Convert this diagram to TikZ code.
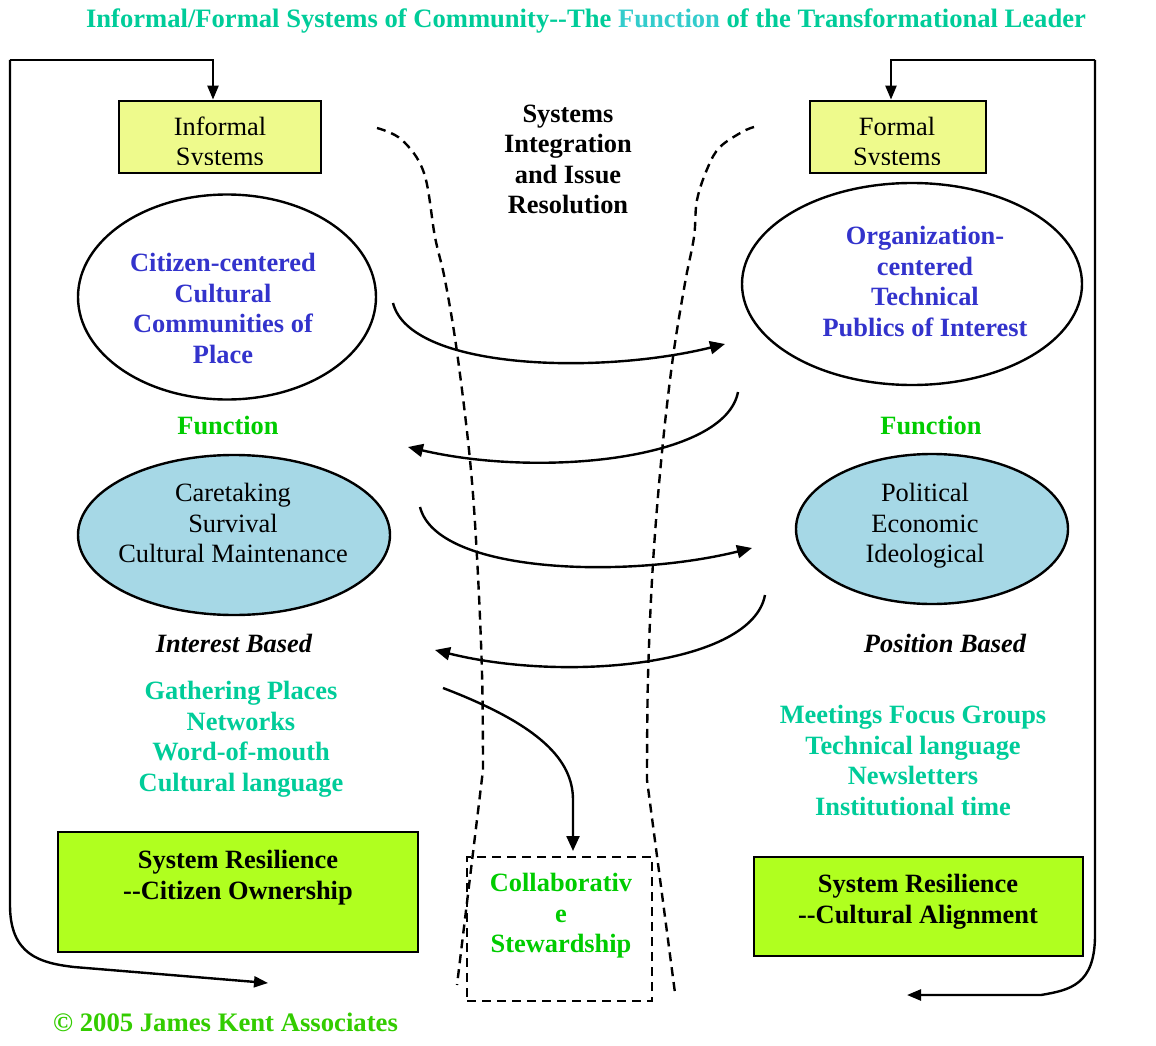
\documentclass[tikz,border=0pt]{standalone}
\usepackage{fontspec}
\setmainfont{Liberation Serif}
\usetikzlibrary{arrows.meta,shapes.geometric}
\definecolor{tealT}{RGB}{0,204,153}
\definecolor{cyanT}{RGB}{51,204,204}
\definecolor{blueT}{RGB}{51,51,204}
\definecolor{greenF}{RGB}{0,204,0}
\definecolor{greenC}{RGB}{51,204,0}
\definecolor{yellowB}{RGB}{238,250,140}
\definecolor{limeB}{RGB}{176,255,31}
\definecolor{blueE}{RGB}{166,216,230}
\begin{document}
\begin{tikzpicture}[x=1pt,y=-1pt,
  tx/.style={inner sep=0pt, align=center, anchor=north,
    font=\fontsize{26.4}{30.5}\selectfont,
    execute at begin node={\rule{0pt}{20pt}}},
  bt/.style={tx, font=\fontsize{26.4}{30.5}\selectfont\bfseries},
  ybox/.style={draw, line width=2.8pt, fill=yellowB, inner sep=0pt},
  gbox/.style={draw, line width=2.8pt, fill=limeB, inner sep=0pt},
  ell/.style={draw, ellipse, line width=2.4pt, inner sep=0pt},
  conn/.style={line width=2.4pt, -{Triangle[length=15pt,width=13pt]}},
  loopln/.style={line width=2.4pt, -{Triangle[length=14pt,width=11pt]}},
  dsh/.style={line width=2.4pt, dash pattern=on 9pt off 6pt}
]
\useasboundingbox (0,0) rectangle (1156,1046);

% title
\node[bt, text=tealT, font=\fontsize{26.6}{30.5}\selectfont\bfseries] (title) at (586,7)
  {Informal/Formal Systems of Community-{}-The \textcolor{cyanT}{Function} of the Transformational Leader};

% boxes
\node[ybox, minimum width=202pt, minimum height=72pt] (inf) at (220,137) {};
\node[ybox, minimum width=176pt, minimum height=72pt] (form) at (898,137) {};
\begin{scope}
  \clip (119,101) rectangle (321,164);
  \node[tx] (infT) at (220,116.5) {Informal\\Systems};
\end{scope}
\begin{scope}
  \clip (810,101) rectangle (986,164);
  \node[tx] (formT) at (897,116.5) {Formal\\Systems};
\end{scope}

% ellipses
\node[ell, fill=white, minimum width=298pt, minimum height=205pt] (e1) at (227,297) {};
\node[ell, fill=white, minimum width=340pt, minimum height=202pt] (e2) at (912,284) {};
\node[ell, fill=blueE, minimum width=312pt, minimum height=160pt] (e3) at (234,535) {};
\node[ell, fill=blueE, minimum width=272pt, minimum height=150pt] (e4) at (932,529) {};

% resilience boxes
\node[gbox, minimum width=360pt, minimum height=120pt] (res1) at (238,892) {};
\node[gbox, minimum width=329pt, minimum height=99pt] (res2) at (918.5,906.5) {};
\node[draw, dsh, minimum width=185pt, minimum height=144pt, inner sep=0pt] (collab) at (559.5,929) {};

% texts
\node[bt] (sysT) at (568,104.5) {Systems\\Integration\\and Issue\\Resolution};
\node[bt, text=blueT] (citT) at (223,253) {Citizen-centered\\Cultural\\Communities of\\Place};
\node[bt, text=blueT] (orgT) at (925,226) {Organization-\\centered\\Technical\\Publics of Interest};
\node[bt, text=greenF] (fnL) at (228,414) {Function};
\node[bt, text=greenF] (fnR) at (931,414) {Function};
\node[tx] (careT) at (233,483) {Caretaking\\Survival\\Cultural Maintenance};
\node[tx] (polT) at (925,483) {Political\\Economic\\Ideological};
\node[bt, font=\fontsize{26.4}{30.5}\selectfont\bfseries\itshape] (intT) at (234,632) {Interest Based};
\node[bt, font=\fontsize{26.4}{30.5}\selectfont\bfseries\itshape] (posT) at (945,632) {Position Based};
\node[bt, text=tealT] (gathT) at (241,681) {Gathering Places\\Networks\\Word-of-mouth\\Cultural language};
\node[bt, text=tealT] (meetT) at (913,705) {Meetings Focus Groups\\Technical language\\Newsletters\\Institutional time};
\node[bt] (res1T) at (238,850) {System Resilience\\-{}-Citizen Ownership};
\node[bt] (res2T) at (918,874) {System Resilience\\-{}-Cultural Alignment};
\node[bt, text=greenF] (colT) at (561,873) {Collaborativ\\e\\Stewardship};
\node[bt, text=greenC, anchor=north west, font=\fontsize{26.7}{30.5}\selectfont\bfseries] (copyT) at (53,1011) {\textcopyright{} 2005 James Kent Associates};

% feedback loops
\coordinate (lt) at (213,60);
\coordinate (ltl) at (10,60);
\coordinate (larr) at (268,983);
\coordinate (rt) at (891,60);
\coordinate (rtr) at (1095,60);
\coordinate (rarr) at (907,995);
\draw[loopln] (ltl) -- (lt) -- (lt |- inf.north);
\draw[loopln] (ltl) -- (10,905) .. controls (10,955) and (40,963) .. (74,967) -- (larr);
\draw[loopln] (rtr) -- (rt) -- (rt |- form.north);
\draw[loopln] (rtr) -- (1095,935) .. controls (1095,985) and (1070,990) .. (1041,995) -- (rarr);

% dashed funnel
\draw[dsh] plot[smooth, tension=0.6] coordinates {(377,128) (402,140) (424,173) (435,237) (445,280) (457,352) (470,460) (477,557) (482,673) (483,770)} -- (457,985);
\draw[dsh] plot[smooth, tension=0.6] coordinates {(754,127) (742,132) (720,147) (708,167) (697,200) (694,237) (685,283) (673,357) (662,452) (653,563) (648,677) (647,780)} -- (675,993);

% exchange arrows
\coordinate (a1s) at (393,303); \coordinate (a1e) at (725,344);
\coordinate (a2s) at (738,392); \coordinate (a2e) at (408,447);
\coordinate (a3s) at (420,507); \coordinate (a3e) at (752,548);
\coordinate (a4s) at (765,595); \coordinate (a4e) at (435,650);
\coordinate (a5s) at (443,688); \coordinate (a5e) at (573,851);
\draw[conn] (a1s) .. controls (410,370) and (600,375) .. (a1e);
\draw[conn] (a2s) .. controls (725,460) and (540,478) .. (a2e);
\draw[conn] (a3s) .. controls (437,574) and (627,579) .. (a3e);
\draw[conn] (a4s) .. controls (752,665) and (567,683) .. (a4e);
\draw[conn] (a5s) .. controls (540,725) and (573,760) .. (573,800) -- (a5e);
\end{tikzpicture}
\end{document}
